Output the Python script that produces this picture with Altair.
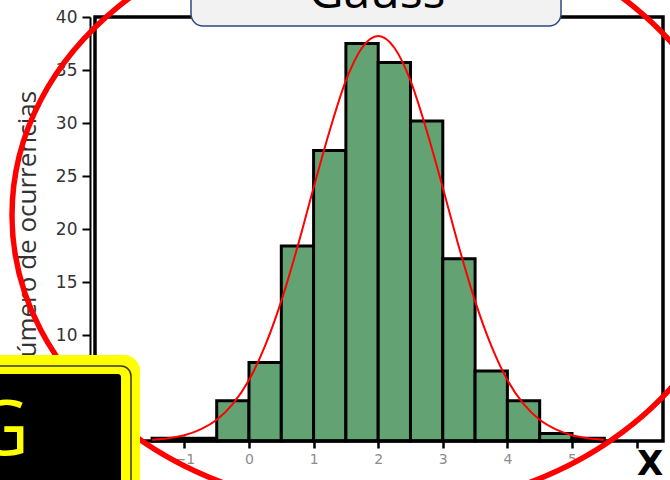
import altair as alt
import pandas as pd

# ---- data -------------------------------------------------------------
# histogram bins (left edges, width 0.5) and their heights
bin_left = [-1.5, -1.0, -0.5, 0.0, 0.5, 1.0, 1.5, 2.0, 2.5, 3.0, 3.5, 4.0, 4.5, 5.0]
counts = [0.25, 0.25, 3.8, 7.4, 18.4, 27.4, 37.5, 35.7, 30.2, 17.2, 6.6, 3.8, 0.7, 0.25]
bin_width = 0.5

# fitted normal curve, sampled every 0.25
curve_x = [-1.5, -1.25, -1.0, -0.75, -0.5, -0.25, 0.0, 0.25, 0.5, 0.75, 1.0, 1.25,
           1.5, 1.75, 2.0, 2.25, 2.5, 2.75, 3.0, 3.25, 3.5, 3.75, 4.0, 4.25, 4.5,
           4.75, 5.0, 5.25, 5.5]
curve_y = [0.12, 0.26, 0.55, 1.1, 2.0, 3.5, 5.75, 9.0, 13.2, 18.3, 23.9, 29.3,
           34.0, 37.1, 38.2, 37.1, 34.0, 29.3, 23.9, 18.3, 13.2, 9.0, 5.75, 3.5, 2.0,
           1.1, 0.55, 0.26, 0.12]

x_ticks = [-2, -1, 0, 1, 2, 3, 4, 5, 6]
y_ticks = [0, 5, 10, 15, 20, 25, 30, 35, 40]

# ---- layout -------------------------------------------------------------
W, H = 568, 424
PAD = {"left": 95, "top": 17, "right": 7, "bottom": 39}

bars_df = pd.DataFrame({
    "x0": bin_left,
    "x1": [b + bin_width for b in bin_left],
    "count": counts,
})
curve_df = pd.DataFrame({"x": curve_x, "y": curve_y})
one = pd.DataFrame({"k": [0]})

xscale = alt.Scale(domain=[-2.384, 6.409], nice=False, zero=False)
yscale = alt.Scale(domain=[0, 40], nice=False)

x_axis = alt.Axis(
    values=x_ticks, title="", domain=False, grid=False,
    ticks=True, tickColor="black", tickWidth=2.5, tickSize=7,
    labelColor="#8c8c8c", labelFont="DejaVu Sans", labelFontSize=14,
    labelPadding=4, labelExpr="datum.value == 6 ? '' : datum.label")
y_axis = alt.Axis(
    values=y_ticks, title="", grid=False, offset=5,
    domainColor="black", domainWidth=2,
    tickColor="black", tickWidth=2, tickSize=8,
    labelColor="#333333", labelFont="DejaVu Sans", labelFontSize=17,
    labelPadding=5)

bars = alt.Chart(bars_df).mark_bar(
    fill="#63a373", stroke="black", strokeWidth=3, strokeJoin="miter"
).encode(
    x=alt.X("x0:Q", scale=xscale, axis=x_axis),
    x2="x1:Q",
    y=alt.Y("count:Q", scale=yscale, axis=y_axis),
    y2=alt.datum(0),
)

# plot frame
frame = alt.Chart(one).mark_rect(filled=False, stroke="black", strokeWidth=3.5).encode(
    x=alt.value(0), x2=alt.value(W), y=alt.value(0), y2=alt.value(H)
)

curve = alt.Chart(curve_df).mark_line(
    color="#ff0000", strokeWidth=2, interpolate="monotone"
).encode(
    x=alt.X("x:Q", scale=xscale, axis=x_axis),
    y=alt.Y("y:Q", scale=yscale, axis=y_axis),
)

# title box at the top
title_box = alt.Chart(one).mark_rect(
    fill="#f2f2f2", stroke="#2e4a7d", strokeWidth=1.5, cornerRadius=12
).encode(x=alt.value(96), x2=alt.value(466), y=alt.value(-40), y2=alt.value(9))

title_text = alt.Chart(one).mark_text(
    text="Gauss", font="Open Sans", fontSize=48, color="black",
    align="center", baseline="alphabetic"
).encode(x=alt.value(282), y=alt.value(-9))

y_title = alt.Chart(one).mark_text(
    text="Número de ocurrencias", font="Open Sans", fontSize=26, color="#333333",
    angle=270, align="center", baseline="middle"
).encode(x=alt.value(-67), y=alt.value(217))

# red ellipse (cubic-bezier outline in unit coordinates)
r, k = 0.8104, 0.5523
kr = round(k * r, 4)
ellipse_path = (
    f"M 1 0 C 1 {kr} {k} {r} 0 {r} "
    f"C -{k} {r} -1 {kr} -1 0 "
    f"C -1 -{kr} -{k} -{r} 0 -{r} "
    f"C {k} -{r} 1 -{kr} 1 0 Z"
)
ellipse = alt.Chart(one).mark_point(
    shape=ellipse_path, size=728 ** 2, filled=False,
    stroke="#ff0000", strokeWidth=5.5, opacity=1
).encode(x=alt.value(281), y=alt.value(198))

# yellow "G" badge in the lower-left corner
badge_outer = alt.Chart(one).mark_rect(fill="#ffff00", cornerRadius=16).encode(
    x=alt.value(-130), x2=alt.value(45), y=alt.value(338), y2=alt.value(520)
)
badge_line = alt.Chart(one).mark_rect(
    filled=False, stroke="#3a3a10", strokeWidth=1.5, cornerRadius=10
).encode(x=alt.value(-130), x2=alt.value(36), y=alt.value(349), y2=alt.value(520))
badge_inner = alt.Chart(one).mark_rect(fill="black", cornerRadius=3).encode(
    x=alt.value(-130), x2=alt.value(26), y=alt.value(357), y2=alt.value(520)
)
badge_text = alt.Chart(one).mark_text(
    text="G", font="Open Sans", fontSize=76, color="#ffff00",
    align="right", baseline="alphabetic"
).encode(x=alt.value(-66), y=alt.value(438))

x_label = alt.Chart(one).mark_text(
    text="X", font="DejaVu Sans", fontSize=34, fontWeight="bold", color="black",
    align="center", baseline="alphabetic"
).encode(x=alt.value(555), y=alt.value(458))

chart = alt.layer(
    bars, frame, curve, title_box, title_text, y_title, ellipse,
    badge_outer, badge_line, badge_inner, badge_text, x_label
).properties(
    width=W, height=H,
    padding=PAD,
    autosize=alt.AutoSizeParams(type="none"),
    background="white",
).configure_view(strokeWidth=0)

chart.save("out.html", embed_options={"renderer": "svg", "actions": False})
